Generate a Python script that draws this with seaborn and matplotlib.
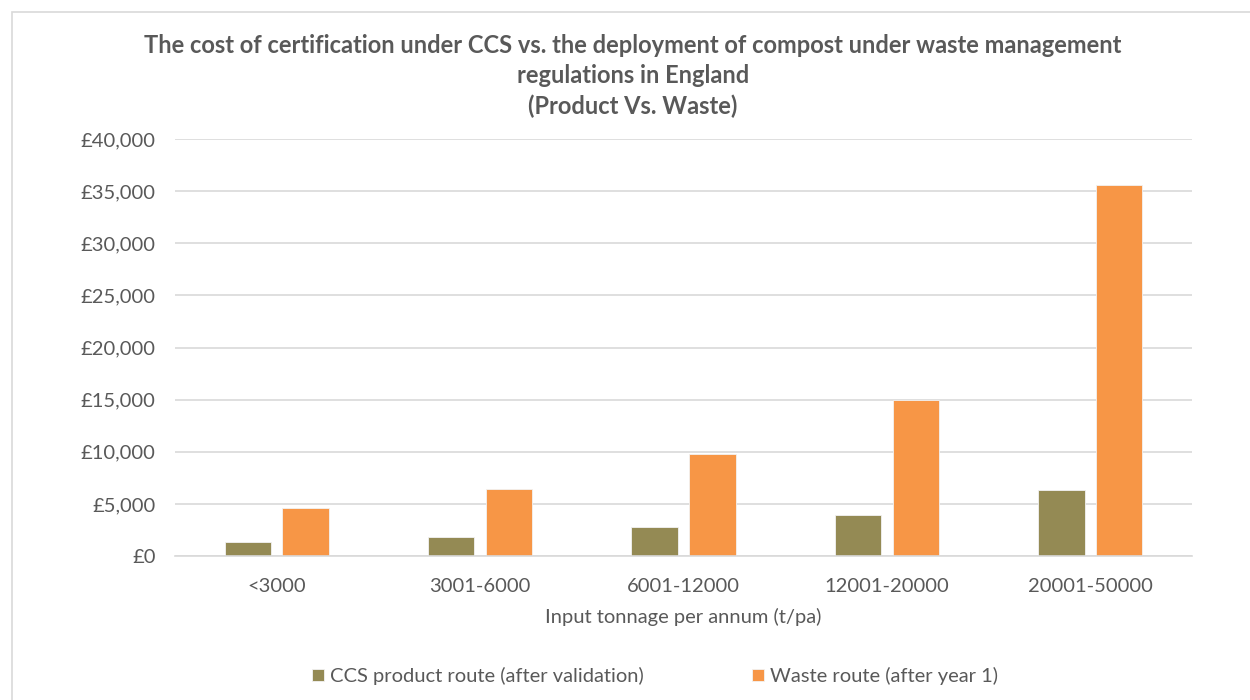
import pandas as pd
import numpy as np
import seaborn as sns
import matplotlib.pyplot as plt
from matplotlib.patches import Rectangle
from matplotlib.ticker import FuncFormatter

# 数据
categories = ['<3000', '3001-6000', '6001-12000', '12001-20000', '20001-50000']
ccs_cost = [1340, 1860, 2750, 3970, 6330]
waste_cost = [4640, 6400, 9750, 15000, 35570]
series_names = ['CCS product route (after validation)', 'Waste route (after year 1)']
colors = ['#948A54', '#F79646']

df = pd.DataFrame({
    'cat': categories * 2,
    'cost': ccs_cost + waste_cost,
    'series': [series_names[0]] * 5 + [series_names[1]] * 5,
})

sns.set_theme(style='white')
plt.rcParams['font.family'] = ['Lato', 'DejaVu Sans']
text_c = '#595959'
grid_c = '#D9D9D9'

fig = plt.figure(figsize=(12.5, 7), dpi=100)
ax = fig.add_axes([175 / 1250, 1 - 556 / 700, (1192 - 175) / 1250, (556 - 139) / 700])

sns.barplot(data=df, x='cat', y='cost', hue='series', palette=colors,
            width=0.57, gap=0.2, ax=ax, edgecolor='#F2F2F2', linewidth=0.6,
            saturation=1)

ax.set_ylim(0, 40000)
ax.set_yticks(np.arange(0, 40001, 5000))
ax.yaxis.set_major_formatter(FuncFormatter(lambda v, p: f'£{v:,.0f}'))
ax.set_xlim(-0.5, 4.5)
ax.grid(axis='y', color=grid_c, linewidth=1.2)
ax.set_axisbelow(True)
for s in ['top', 'right', 'left']:
    ax.spines[s].set_visible(False)
ax.spines['bottom'].set_color(grid_c)
ax.spines['bottom'].set_linewidth(1.2)
ax.tick_params(axis='both', length=0, labelsize=14.5, labelcolor=text_c, pad=14)
ax.tick_params(axis='x', pad=16)
ax.set_ylabel('')
ax.set_xlabel('Input tonnage per annum (t/pa)', fontsize=14.5, color=text_c, labelpad=9)

ax.legend_.remove()
handles, labels = ax.get_legend_handles_labels()
fig.legend(handles, labels, loc='center', bbox_to_anchor=(655 / 1250, 1 - 676 / 700),
           ncol=2, frameon=False, fontsize=14.5, labelcolor=text_c,
           handlelength=0.6, handleheight=0.6, handletextpad=0.3, columnspacing=5.4)

fig.text(633 / 1250, 1 - 76 / 700,
         'The cost of certification under CCS vs. the deployment of compost under waste management\n'
         'regulations in England\n(Product Vs. Waste)',
         ha='center', va='center', fontsize=17, fontweight='bold', color=text_c,
         linespacing=1.4)

# 外框
fig.patches.append(Rectangle((12 / 1250, -0.05), 1.1, 1 - 12 / 700 + 0.05,
                             transform=fig.transFigure, fill=False,
                             edgecolor='#D9D9D9', linewidth=1.2))

fig.savefig('out.png', dpi=100)
